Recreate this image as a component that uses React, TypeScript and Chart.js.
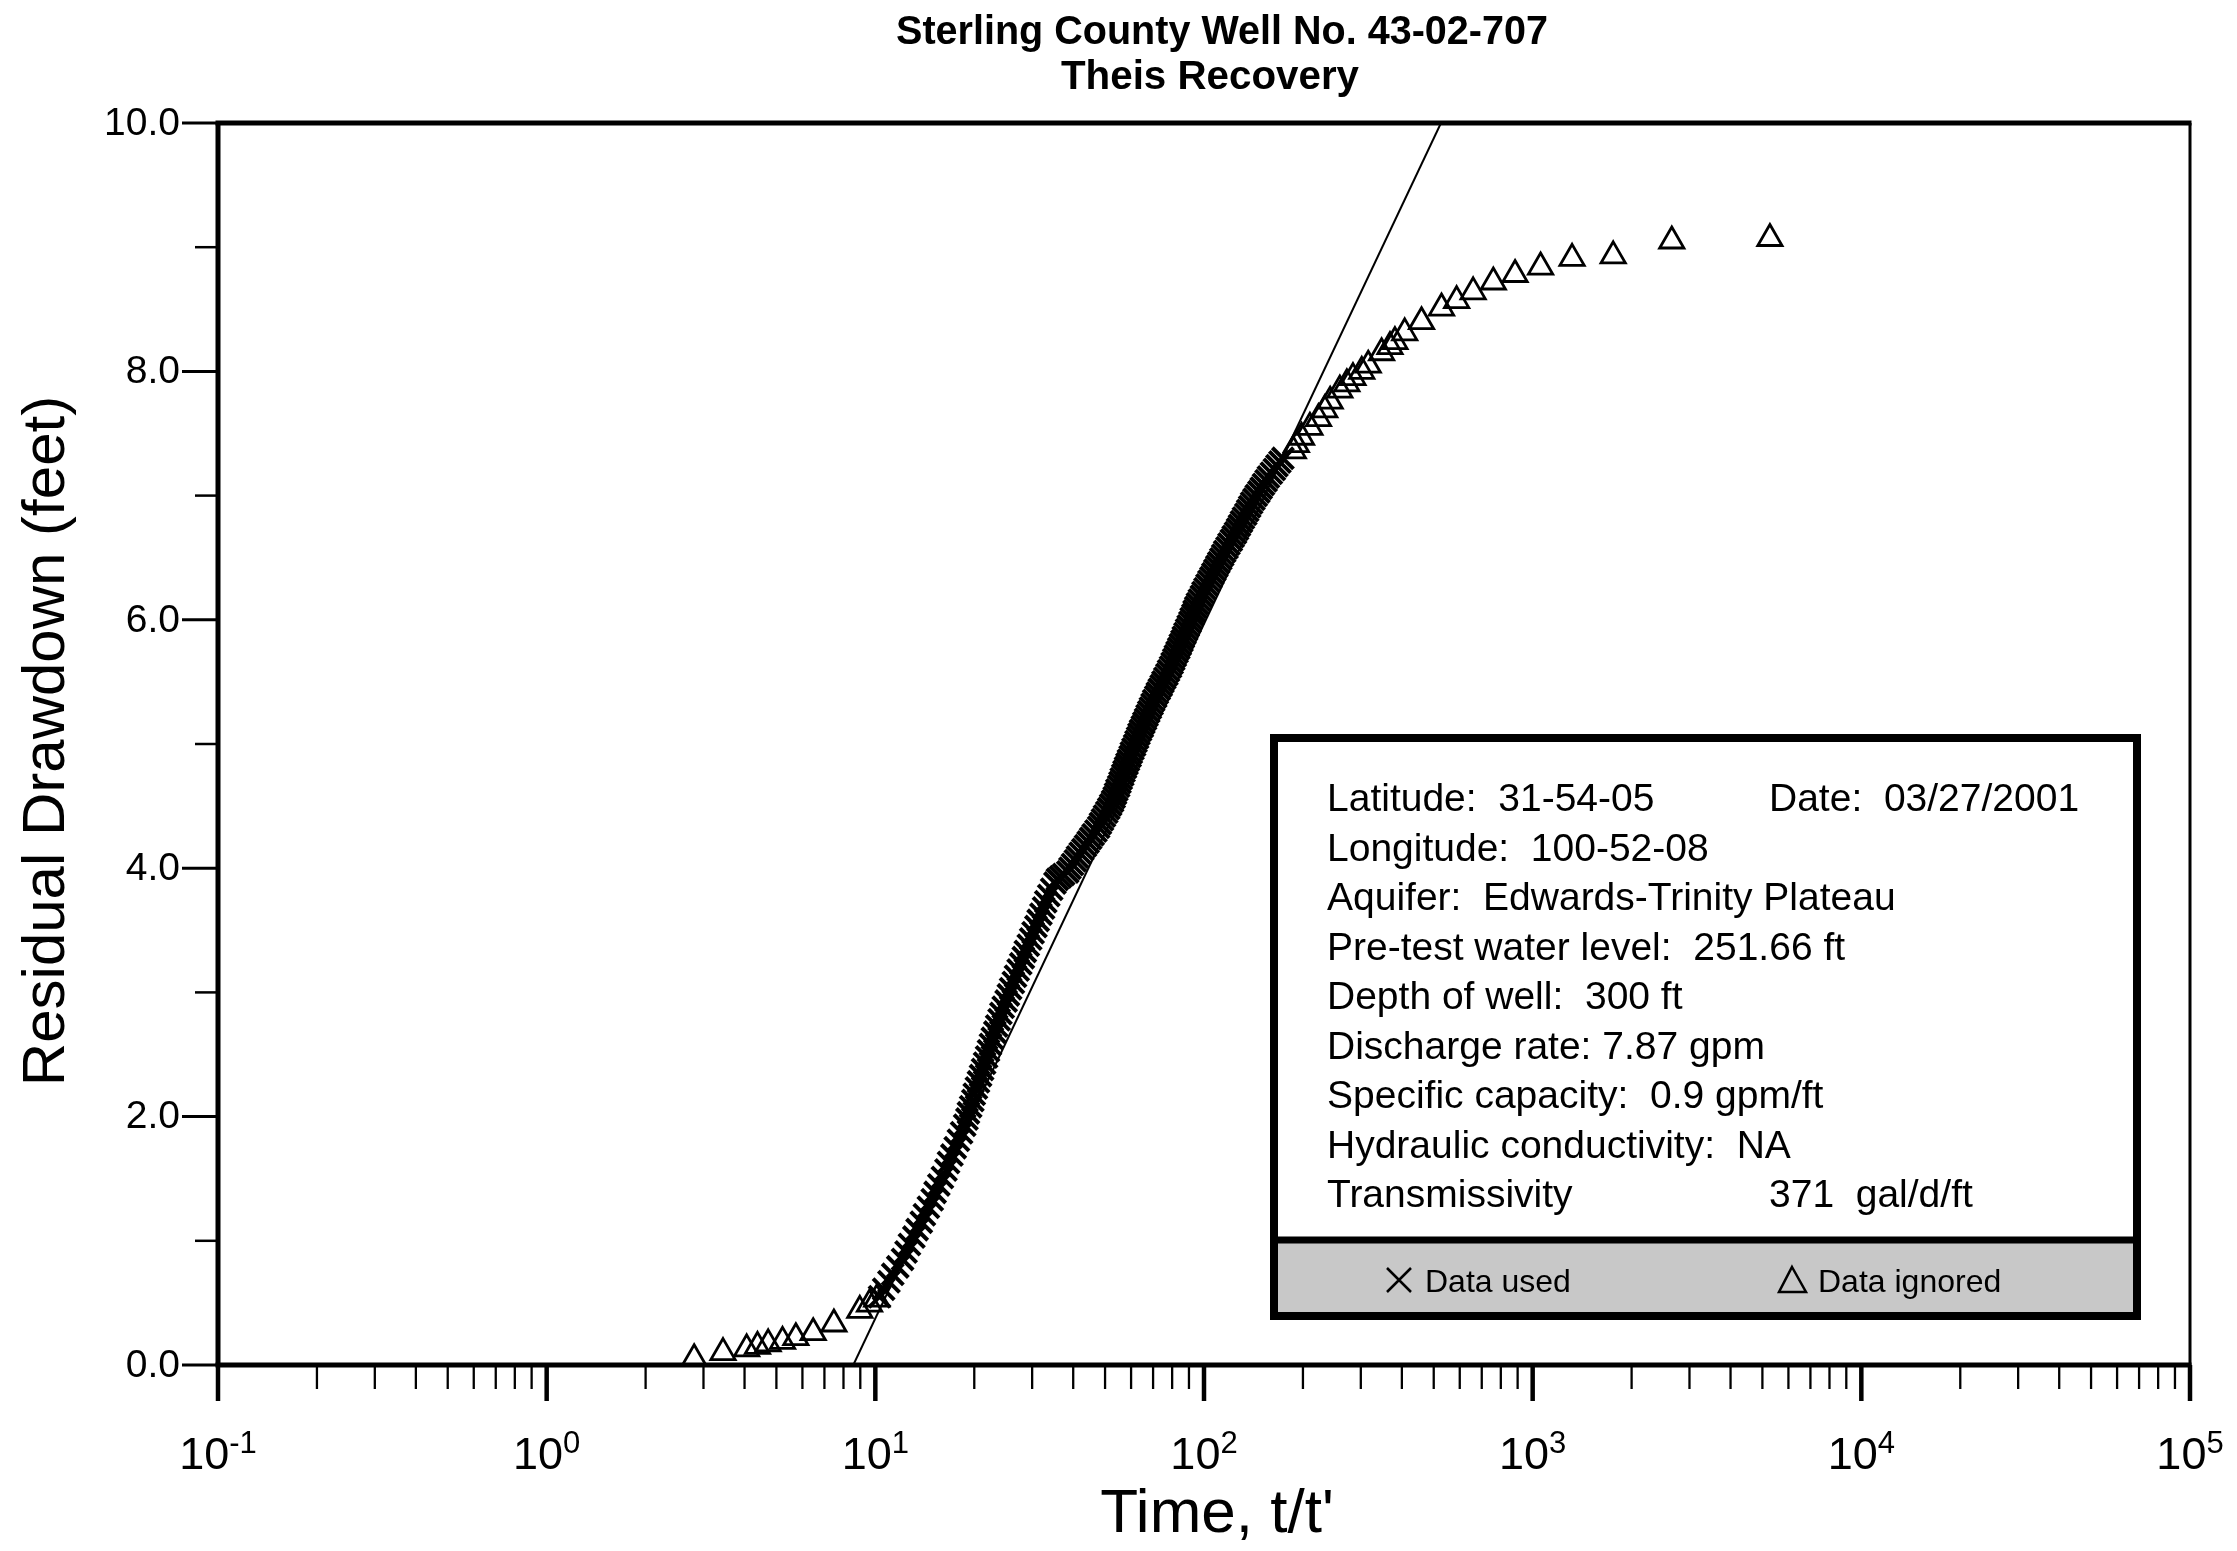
import React, { useEffect, useRef } from 'react';
import { Chart, registerables } from 'chart.js';

Chart.register(...registerables);

// ---------- text ----------
const TITLE_LINES = ['Sterling County Well No. 43-02-707', 'Theis Recovery'];
const X_TITLE = "Time, t/t'";
const Y_TITLE = 'Residual Drawdown (feet)';

// ---------- ticks ----------
const X_TICK_EXPONENTS = [-1, 0, 1, 2, 3, 4, 5];
const X_MINOR_MULTIPLIERS = [2, 3, 4, 5, 6, 7, 8, 9];
const Y_TICK_VALUES = [0, 2, 4, 6, 8, 10];
const Y_TICK_LABELS = ['0.0', '2.0', '4.0', '6.0', '8.0', '10.0'];
const Y_MINOR_VALUES = [1, 3, 5, 7, 9];

// ---------- data: ignored (early) ----------
const EARLY_IGNORED_T = [2.81, 3.44, 4.06, 4.38, 4.72, 5.22, 5.73, 6.47, 7.48, 8.97, 9.6, 10.1];
const EARLY_IGNORED_S = [0.05, 0.1, 0.13, 0.15, 0.17, 0.19, 0.22, 0.26, 0.33, 0.44, 0.49, 0.53];

// ---------- data: ignored (late) ----------
const LATE_IGNORED_T = [187, 191, 198, 210, 223, 233, 242, 259, 272, 284, 302, 316, 347, 368, 381, 408, 459, 528, 587, 659, 759, 884, 1057, 1318, 1758, 2650, 5270];
const LATE_IGNORED_S = [7.36, 7.41, 7.47, 7.55, 7.62, 7.69, 7.76, 7.85, 7.9, 7.95, 8.0, 8.05, 8.15, 8.2, 8.24, 8.31, 8.4, 8.51, 8.57, 8.64, 8.72, 8.78, 8.84, 8.91, 8.93, 9.05, 9.07];

// ---------- data: used ----------
const USED_T = [
  10.3, 10.6, 11.0, 11.3, 11.7, 12.1, 12.4, 12.7, 13.1, 13.4, 13.8, 14.1, 14.5, 14.9, 15.2, 15.6,
  16.0, 16.4, 16.7, 17.1, 17.5, 17.9, 18.3, 18.7, 19.0, 19.2, 19.5, 19.8, 20.0, 20.3, 20.6, 20.9,
  21.2, 21.5, 21.8, 22.1, 22.4, 22.7, 23.1, 23.4, 23.8, 24.1, 24.5, 25.0, 25.4, 25.8, 26.3, 26.7,
  27.2, 27.7, 28.2, 28.6, 29.2, 29.7, 30.2, 30.8, 31.3, 31.9, 32.5, 33.0, 33.7, 34.4, 35.2,
  35.8, 36.6, 37.4, 38.5, 39.1, 39.8, 40.6, 41.2, 42.0,
  42.8, 43.6, 44.4, 45.2, 46.0, 46.9,
  47.8, 48.4, 49.1, 49.8, 50.6, 51.3, 52.0, 52.7,
  53.3, 53.8, 54.3, 55.0, 55.5, 56.0, 56.6, 57.1, 57.7, 58.3,
  58.9, 59.6, 60.1, 60.8, 61.5, 62.1, 62.8, 63.4, 64.1,
  64.9, 65.6, 66.4, 67.1, 67.9, 68.7, 69.5, 70.3,
  71.3, 72.1, 73.1, 74.1, 75.0, 76.0, 77.1, 78.0,
  79.1, 80.0, 80.9, 81.8, 82.8, 83.8, 84.7, 85.7, 86.5, 87.5,
  88.5, 89.5, 90.6, 91.4, 92.5, 93.3, 94.4,
  95.5, 96.8, 98.2, 99.3, 100.7, 102.1,
  103.5, 105.0, 106.4, 107.9, 109.4, 110.9, 112.5, 114.0,
  115.6, 117.5, 119.1, 121.1, 122.7, 124.7, 126.5,
  128.2, 130.0, 131.8, 134.0, 135.8, 137.7, 139.6,
  141.9, 144.2, 146.9, 149.3, 151.7, 154.5, 157.0,
  160.3, 163.7, 166.7, 170.2, 173.8,
];
const USED_S = [
  0.55, 0.61, 0.67, 0.73, 0.79, 0.85, 0.91, 0.97, 1.03, 1.09, 1.15, 1.21, 1.27, 1.33, 1.39, 1.45,
  1.51, 1.57, 1.63, 1.69, 1.75, 1.81, 1.87, 1.93, 1.98, 2.03, 2.08, 2.13, 2.18, 2.23, 2.28, 2.33,
  2.38, 2.43, 2.48, 2.53, 2.58, 2.63, 2.68, 2.73, 2.78, 2.83, 2.88, 2.93, 2.98, 3.03, 3.08, 3.13,
  3.18, 3.23, 3.28, 3.33, 3.38, 3.43, 3.48, 3.53, 3.58, 3.63, 3.68, 3.73, 3.78, 3.83, 3.88,
  3.91, 3.93, 3.95, 3.97, 4.0, 4.03, 4.06, 4.09, 4.12,
  4.15, 4.18, 4.21, 4.24, 4.27, 4.3,
  4.33, 4.36, 4.39, 4.42, 4.45, 4.48, 4.51, 4.54,
  4.57, 4.6, 4.63, 4.66, 4.69, 4.72, 4.75, 4.78, 4.81, 4.84,
  4.87, 4.9, 4.93, 4.96, 4.99, 5.02, 5.05, 5.08, 5.11,
  5.14, 5.17, 5.2, 5.23, 5.26, 5.29, 5.32, 5.35,
  5.38, 5.41, 5.44, 5.47, 5.5, 5.53, 5.56, 5.59,
  5.62, 5.65, 5.68, 5.71, 5.74, 5.77, 5.8, 5.83, 5.86, 5.89,
  5.92, 5.95, 5.98, 6.01, 6.04, 6.07, 6.1,
  6.13, 6.16, 6.19, 6.22, 6.25, 6.28,
  6.31, 6.34, 6.37, 6.4, 6.43, 6.46, 6.49, 6.52,
  6.55, 6.58, 6.61, 6.64, 6.67, 6.7, 6.73,
  6.76, 6.79, 6.82, 6.85, 6.88, 6.91, 6.94,
  6.97, 7.0, 7.03, 7.06, 7.09, 7.12, 7.15,
  7.18, 7.21, 7.24, 7.27, 7.3,
];

// ---------- straight-line fit ----------
const FIT_T = [8.57, 526];
const FIT_S = [0, 10];

// ---------- info box ----------
const INFO_LEFT = [
  'Latitude:  31-54-05',
  'Longitude:  100-52-08',
  'Aquifer:  Edwards-Trinity Plateau',
  'Pre-test water level:  251.66 ft',
  'Depth of well:  300 ft',
  'Discharge rate: 7.87 gpm',
  'Specific capacity:  0.9 gpm/ft',
  'Hydraulic conductivity:  NA',
  'Transmissivity',
];
const INFO_RIGHT = ['Date:  03/27/2001', '', '', '', '', '', '', '', '371  gal/d/ft'];
const LEGEND_LABELS = ['Data used', 'Data ignored'];

const FONT = "'Liberation Sans', Arial, Helvetica, sans-serif";

const toPoints = (xs: number[], ys: number[]) => xs.map((x, i) => ({ x, y: ys[i] }));

function seg(ctx: CanvasRenderingContext2D, x1: number, y1: number, x2: number, y2: number, w: number) {
  ctx.lineWidth = w;
  ctx.beginPath();
  ctx.moveTo(x1, y1);
  ctx.lineTo(x2, y2);
  ctx.stroke();
}

function fitText(ctx: CanvasRenderingContext2D, text: string, cx: number, y: number, targetW: number) {
  const w = ctx.measureText(text).width;
  ctx.save();
  ctx.translate(cx, y);
  ctx.scale(targetW / w, 1);
  ctx.textAlign = 'center';
  ctx.fillText(text, 0, 0);
  ctx.restore();
}

const decorPlugin = {
  id: 'decor',
  afterDraw(chart: any) {
    const ctx: CanvasRenderingContext2D = chart.ctx;
    const xs = chart.scales.x;
    const ys = chart.scales.y;
    const L = chart.chartArea.left;
    const R = chart.chartArea.right;
    const T = chart.chartArea.top;
    const B = chart.chartArea.bottom;
    ctx.save();
    ctx.strokeStyle = '#000';
    ctx.fillStyle = '#000';
    ctx.lineCap = 'butt';

    // frame
    seg(ctx, L - 2.5, T, R + 1.5, T, 5);
    seg(ctx, L, T, L, B, 5);
    seg(ctx, R, T, R, B, 3);
    seg(ctx, L - 2.5, B, R + 1.5, B, 5);

    // y ticks + labels
    ctx.font = `39px ${FONT}`;
    ctx.textAlign = 'right';
    ctx.textBaseline = 'middle';
    Y_TICK_VALUES.forEach((v, i) => {
      const y = ys.getPixelForValue(v);
      seg(ctx, L - 36, y, L, y, 3);
      ctx.fillText(Y_TICK_LABELS[i], L - 38, y + 1);
    });
    Y_MINOR_VALUES.forEach((v) => {
      const y = ys.getPixelForValue(v);
      seg(ctx, L - 23, y, L, y, 2.5);
    });

    // x ticks + labels
    ctx.textBaseline = 'alphabetic';
    ctx.textAlign = 'left';
    X_TICK_EXPONENTS.forEach((e, i) => {
      const base = Math.pow(10, e);
      const x = xs.getPixelForValue(base);
      seg(ctx, x, B, x, B + 36, 4.5);
      if (i < X_TICK_EXPONENTS.length - 1) {
        X_MINOR_MULTIPLIERS.forEach((m) => {
          const xm = xs.getPixelForValue(m * base);
          seg(ctx, xm, B, xm, B + 24, 2.3);
        });
      }
      ctx.font = `45px ${FONT}`;
      const w1 = ctx.measureText('10').width;
      ctx.font = `31px ${FONT}`;
      const sup = String(e);
      const w2 = ctx.measureText(sup).width;
      const x0 = x - (w1 + w2) / 2;
      ctx.font = `45px ${FONT}`;
      ctx.fillText('10', x0, 1469);
      ctx.font = `31px ${FONT}`;
      ctx.fillText(sup, x0 + w1, 1453);
    });

    // axis titles
    ctx.font = `62px ${FONT}`;
    ctx.textAlign = 'center';
    ctx.fillText(X_TITLE, (L + R) / 2 + 13, 1532);
    ctx.save();
    ctx.translate(64, (T + B) / 2 - 3);
    ctx.rotate(-Math.PI / 2);
    ctx.font = `60px ${FONT}`;
    ctx.fillText(Y_TITLE, 0, 0);
    ctx.restore();

    // title
    ctx.font = `bold 40px ${FONT}`;
    fitText(ctx, TITLE_LINES[0], 1222, 44, 652);
    fitText(ctx, TITLE_LINES[1], 1210, 89, 298);

    // info box
    const bl = 1270, br = 2141, bt = 734, bb = 1320, sep = 1240;
    ctx.fillStyle = '#ffffff';
    ctx.fillRect(bl, bt, br - bl, sep - bt);
    ctx.fillStyle = '#c8c8c8';
    ctx.fillRect(bl, sep, br - bl, bb - sep);
    ctx.lineWidth = 8;
    ctx.strokeRect(bl + 4, bt + 4, br - bl - 8, bb - bt - 8);
    seg(ctx, bl, sep, br, sep, 7);
    ctx.fillStyle = '#000';
    ctx.font = `39px ${FONT}`;
    ctx.textAlign = 'left';
    INFO_LEFT.forEach((t, i) => {
      const y = 811 + 49.5 * i;
      ctx.fillText(t, 1327, y);
      if (INFO_RIGHT[i]) ctx.fillText(INFO_RIGHT[i], 1769, y);
    });
    // legend row
    ctx.font = `32px ${FONT}`;
    ctx.fillText(LEGEND_LABELS[0], 1425, 1292);
    ctx.fillText(LEGEND_LABELS[1], 1818, 1292);
    ctx.lineWidth = 2.5;
    ctx.beginPath();
    ctx.moveTo(1387, 1268); ctx.lineTo(1411, 1292);
    ctx.moveTo(1411, 1268); ctx.lineTo(1387, 1292);
    ctx.stroke();
    ctx.beginPath();
    ctx.moveTo(1792, 1267); ctx.lineTo(1806, 1292); ctx.lineTo(1779, 1292); ctx.closePath();
    ctx.stroke();

    ctx.restore();
  },
};

export default function App() {
  const ref = useRef<HTMLCanvasElement | null>(null);
  useEffect(() => {
    if (!ref.current) return;
    const chart = new Chart(ref.current, {
      type: 'scatter',
      data: {
        datasets: [
          {
            label: 'Fit',
            data: toPoints(FIT_T, FIT_S),
            showLine: true,
            borderColor: '#000',
            borderWidth: 2,
            pointRadius: 0,
          },
          {
            label: 'Data used',
            data: toPoints(USED_T, USED_S),
            pointStyle: 'crossRot',
            pointRadius: 15,
            pointBorderWidth: 4,
            pointBorderColor: '#000',
            pointBackgroundColor: 'rgba(0,0,0,0)',
          },
          {
            label: 'Data ignored',
            data: toPoints(EARLY_IGNORED_T, EARLY_IGNORED_S).concat(toPoints(LATE_IGNORED_T, LATE_IGNORED_S)),
            pointStyle: 'triangle',
            pointRadius: 14,
            pointBorderWidth: 2.8,
            pointBorderColor: '#000',
            pointBackgroundColor: 'rgba(0,0,0,0)',
          },
        ],
      },
      options: {
        animation: false,
        responsive: false,
        maintainAspectRatio: false,
        devicePixelRatio: 1,
        layout: { padding: { left: 218, right: 47, top: 123, bottom: 186 } },
        plugins: { legend: { display: false }, tooltip: { enabled: false }, title: { display: false } },
        scales: {
          x: { type: 'logarithmic', min: 0.1, max: 100000, display: false },
          y: { type: 'linear', min: 0, max: 10, display: false },
        },
      },
      plugins: [decorPlugin],
    });
    return () => chart.destroy();
  }, []);
  return (
    <div style={{ position: 'fixed', left: 0, top: 0, width: 2237, height: 1551, background: '#fff' }}>
      <canvas ref={ref} width={2237} height={1551} style={{ width: 2237, height: 1551, display: 'block' }} />
    </div>
  );
}
